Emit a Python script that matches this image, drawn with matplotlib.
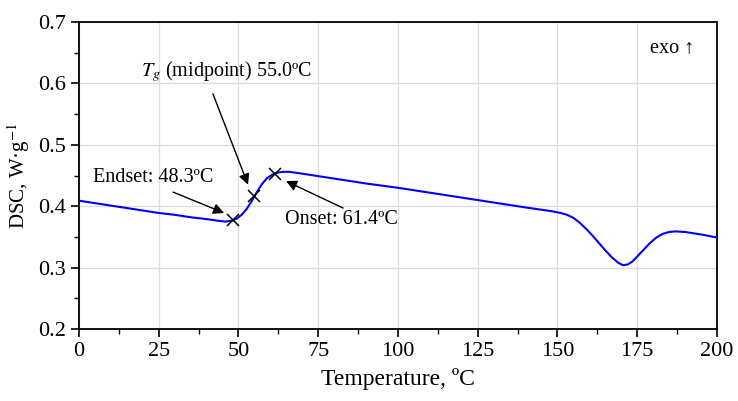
import numpy as np
import matplotlib
matplotlib.use("Agg")
import matplotlib.pyplot as plt

plt.rcParams['font.family'] = ['Liberation Serif', 'DejaVu Serif']
plt.rcParams['mathtext.fontset'] = 'stix'

# DSC curve
temp = [0, 5, 10, 15, 20, 25, 30, 35, 40, 44, 46, 47.5, 48.3, 49.5, 51, 52.5, 54, 55,
        56, 57.5, 59, 60.5, 61.4, 62.5, 64, 66, 70, 75, 80, 90, 100, 110, 120, 130,
        140, 148, 151, 153, 155, 157, 159, 161, 163, 165, 167, 169, 170.5, 172, 173.5,
        175, 177, 179, 181, 183, 185, 187, 190, 195, 200]
dsc = [0.409, 0.405, 0.401, 0.397, 0.393, 0.389, 0.386, 0.382, 0.379, 0.376, 0.375,
       0.376, 0.377, 0.380, 0.386, 0.395, 0.407, 0.416, 0.425, 0.437, 0.446, 0.451,
       0.453, 0.455, 0.456, 0.456, 0.453, 0.449, 0.445, 0.437, 0.430, 0.422, 0.414,
       0.406, 0.398, 0.392, 0.389, 0.386, 0.381, 0.373, 0.363, 0.352, 0.340, 0.328,
       0.317, 0.308, 0.304, 0.305, 0.310, 0.318, 0.329, 0.340, 0.349, 0.355, 0.358,
       0.359, 0.358, 0.354, 0.349]

# characteristic points: endset, midpoint, onset
mark_t = [48.3, 55.0, 61.4]
mark_v = [0.377, 0.416, 0.453]

fig = plt.figure(figsize=(7.38, 4.01), dpi=100)
ax = fig.add_axes([0.107, 0.1796, 0.8645, 0.7654])

ax.plot(temp, dsc, color='#0000ff', lw=1.5, zorder=3)
ax.plot(mark_t, mark_v, 'x', color='black', ms=8, mew=1.1, zorder=4)

arrow = dict(arrowstyle='-|>', color='black', lw=1.0, mutation_scale=16,
             shrinkA=0, shrinkB=0)

ax.annotate('', xy=(45.5, 0.389), xytext=(29.5, 0.423), arrowprops=arrow)
ax.text(23.2, 0.446, 'Endset: 48.3ºC', ha='center', va='center', fontsize=14.5)

ax.annotate('', xy=(53.0, 0.435), xytext=(42.0, 0.583), arrowprops=arrow)
ax.text(46.1, 0.619, '$T_g$ (midpoint) 55.0ºC', ha='center', va='center', fontsize=14.5)

ax.annotate('', xy=(64.9, 0.441), xytext=(82.8, 0.397), arrowprops=arrow)
ax.text(82.4, 0.378, 'Onset: 61.4ºC', ha='center', va='center', fontsize=14.5)

ax.text(186, 0.659, 'exo ↑', ha='center', va='center', fontsize=14.5)

ax.set_xlim(0, 200)
ax.set_ylim(0.2, 0.7)
ax.set_xticks(np.arange(0, 201, 25))
ax.set_xticks(np.arange(12.5, 200, 25), minor=True)
ax.set_yticks(np.arange(0.2, 0.71, 0.1))
ax.set_yticks(np.arange(0.25, 0.7, 0.1), minor=True)
ax.set_yticklabels(['0.2', '0.3', '0.4', '0.5', '0.6', '0.7'])
ax.tick_params(which='major', direction='out', length=6, width=1.2, labelsize=16)
ax.tick_params(which='minor', direction='out', length=3.5, width=1.0)
ax.grid(True, which='major', color='#dcdcdc', lw=0.9)
ax.set_axisbelow(True)
for s in ax.spines.values():
    s.set_linewidth(1.3)

ax.set_xlabel('Temperature, ºC', fontsize=17, labelpad=5)
ax.set_ylabel('DSC, W·g$^{-1}$', fontsize=15, labelpad=4)

fig.savefig('out.png', dpi=100)
